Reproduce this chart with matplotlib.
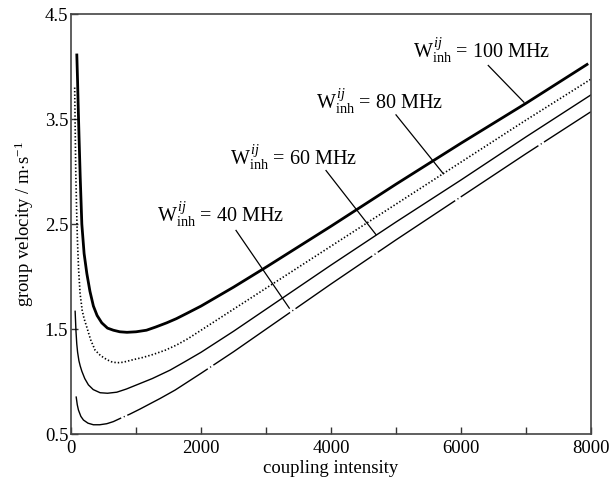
import matplotlib
matplotlib.use("Agg")
import matplotlib.pyplot as plt
from matplotlib.ticker import MultipleLocator

plt.rcParams["font.family"] = ["Liberation Serif", "DejaVu Serif"]
plt.rcParams["mathtext.fontset"] = "custom"
plt.rcParams["mathtext.rm"] = "Liberation Serif"
plt.rcParams["mathtext.it"] = "Liberation Serif:italic"
plt.rcParams["lines.scale_dashes"] = False

# Lecturas de la figura: velocidad de grupo frente a intensidad de acoplamiento
x_100 = [88, 100, 110, 123, 140, 165, 200, 242, 290, 343, 400, 472, 560, 650,
         750, 860, 1000, 1160, 1300, 1470, 1620, 1780, 2000, 2500,
         3000, 4000, 5000, 6000, 7000, 7940]
y_100 = [4.11, 3.85, 3.60, 3.31, 2.95, 2.50, 2.22, 2.03, 1.86, 1.72, 1.63, 1.56, 1.51, 1.49,
         1.475, 1.47, 1.475, 1.49, 1.52, 1.56, 1.60, 1.65, 1.72, 1.90,
         2.09, 2.48, 2.88, 3.27, 3.65, 4.02]

x_80 = [55, 63, 72, 84, 97, 115, 138, 170, 200, 241, 300, 369, 450, 549, 620,
        703, 800, 958, 1100, 1266, 1450, 1626, 1800, 2000, 2500,
        3000, 4000, 5000, 6000, 7000, 8000]
y_80 = [3.80, 3.40, 2.99, 2.65, 2.35, 2.07, 1.84, 1.68, 1.60, 1.52, 1.40, 1.30, 1.25, 1.21, 1.19,
        1.18, 1.185, 1.21, 1.23, 1.26, 1.30, 1.35, 1.41, 1.49, 1.69,
        1.89, 2.29, 2.69, 3.09, 3.49, 3.88]

x_60 = [62, 75, 87, 100, 120, 140, 165, 210, 266, 340, 446, 560, 703, 850,
        1010, 1250, 1523, 1750, 2000, 2500,
        3000, 4000, 5000, 6000, 7000, 8000]
y_60 = [1.67, 1.48, 1.36, 1.28, 1.20, 1.15, 1.10, 1.03, 0.97, 0.925, 0.895, 0.89, 0.90, 0.93,
        0.97, 1.03, 1.11, 1.19, 1.28, 1.48,
        1.69, 2.11, 2.52, 2.92, 3.33, 3.73]

x_40 = [77, 95, 113, 150, 190, 260, 343, 440, 549, 650, 754, 900, 1062, 1215,
        1369, 1600, 2000, 2500,
        3000, 4000, 5000, 6000, 7000, 8000]
y_40 = [0.86, 0.78, 0.73, 0.67, 0.635, 0.605, 0.59, 0.59, 0.60, 0.62, 0.65, 0.69, 0.74, 0.79,
        0.84, 0.92, 1.08, 1.285,
        1.50, 1.93, 2.35, 2.76, 3.17, 3.57]

# etiquetas: (texto, posicion del texto, inicio y fin de la flecha)
labels = ["100", "80", "60", "40"]
text_pos = [(6320, 4.15), (4750, 3.66), (3420, 3.13), (2300, 2.59)]
line_start = [(6420, 4.01), (5000, 3.54), (3923, 3.01), (2538, 2.44)]
line_end = [(6969, 3.66), (5728, 2.98), (4692, 2.40), (3358, 1.70)]

fig = plt.figure(figsize=(6.13, 4.83), dpi=100)
ax = fig.add_axes([0.116, 0.101, 0.848, 0.870])

ax.plot(x_100, y_100, color="black", lw=2.0, solid_joinstyle="round")
ax.plot(x_80, y_80, color="black", lw=1.2, linestyle=(0, (1.0, 1.5)))
ax.plot(x_60, y_60, color="black", lw=1.0)
ax.plot(x_40, y_40, color="black", lw=1.0, linestyle=(20, (67, 2.0, 0.8, 2.0)))

for lab, tp, ls, le in zip(labels, text_pos, line_start, line_end):
    ax.text(tp[0], tp[1], r"W$^{\,ij}_{\rm inh}$ = " + lab + " MHz",
            ha="center", va="center", fontsize=14.5)
    ax.plot([ls[0], le[0]], [ls[1], le[1]], color="black", lw=0.9)

ax.set_xlim(0, 8000)
ax.set_ylim(0.5, 4.5)
ax.xaxis.set_major_locator(MultipleLocator(2000))
ax.xaxis.set_minor_locator(MultipleLocator(1000))
ax.set_yticks([0.5, 1.5, 2.5, 3.5, 4.5])
ax.tick_params(which="both", direction="in", length=5, width=1.0,
               top=False, right=False, labelsize=13.5, colors="#333333",
               labelcolor="black")
ax.tick_params(axis="y", pad=2)
ax.tick_params(axis="x", pad=4)

for s in ax.spines.values():
    s.set_color("#444444")
    s.set_linewidth(1.2)

ax.set_xlabel("coupling intensity", fontsize=13.5, labelpad=2)
ax.set_ylabel(r"group velocity / m$\cdot$s$^{-1}$", fontsize=13.5, labelpad=6)

fig.savefig("out.png", dpi=100)
